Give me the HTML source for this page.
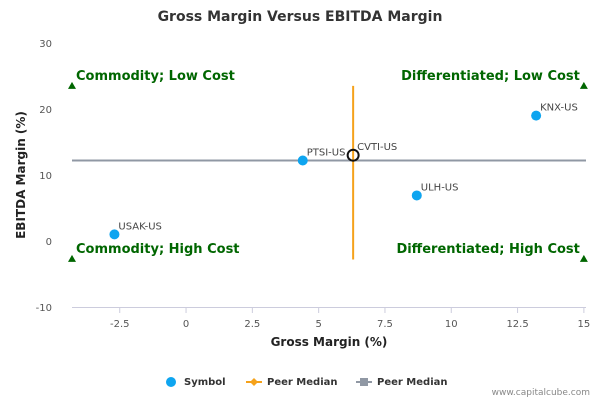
<!DOCTYPE html>
<html><head><meta charset="utf-8"><style>
body{margin:0;background:#fff;font-family:"DejaVu Sans","Liberation Sans",sans-serif}
svg text{font-family:"DejaVu Sans","Liberation Sans",sans-serif}
</style></head><body>
<svg id="chart" width="600" height="400" viewBox="0 0 600 400">
<text x="300" y="21" text-anchor="middle" font-size="14" font-weight="bold" fill="#333">Gross Margin Versus EBITDA Margin</text>
<g id="grid"></g><g id="axes"></g><g id="marks"></g>
<text x="329" y="346" text-anchor="middle" font-size="12" font-weight="bold" fill="#222">Gross Margin (%)</text>
<text transform="translate(25,175) rotate(-90)" text-anchor="middle" font-size="12" font-weight="bold" fill="#222">EBITDA Margin (%)</text>
<g font-size="10" font-weight="bold" fill="#333">
<g><circle cx="171" cy="382" r="5" fill="#0ea5f0"/><text x="184" y="385">Symbol</text></g>
<g><line x1="246" y1="382" x2="262" y2="382" stroke="#f5a21b" stroke-width="2"/><path d="M254 378 L258 382 L254 386 L250 382Z" fill="#f5a21b"/><text x="267" y="385">Peer Median</text></g>
<g><line x1="356" y1="382" x2="372" y2="382" stroke="#9098a4" stroke-width="2"/><rect x="360" y="378" width="8" height="8" fill="#9098a4"/><text x="377" y="385">Peer Median</text></g>
</g>
<text x="590" y="395" text-anchor="end" font-size="9" fill="#888">www.capitalcube.com</text>
</svg>
<script>
const xTicks=[-2.5,0,2.5,5,7.5,10,12.5,15];
const xTickLabels=["-2.5","0","2.5","5","7.5","10","12.5","15"];
const yTicks=[-10,0,10,20,30];
const symbols=["KNX-US","PTSI-US","CVTI-US","ULH-US","USAK-US"];
const grossMargin=[13.2,4.4,6.3,8.7,-2.7];
const ebitdaMargin=[19,12.2,13,6.9,1];
const medianX=6.3, medianY=12.2;
const quadLabels=["Commodity; Low Cost","Differentiated; Low Cost","Commodity; High Cost","Differentiated; High Cost"];
const quadX=[-4.3,15,-4.3,15];
const quadY=[23.5,23.5,-2.7,-2.7];
const xMin=-4.3,xMax=15.08,yMin=-10,yMax=30;
const X=v=>72+(v-xMin)/(xMax-xMin)*(586-72);
const Y=v=>307-(v-yMin)/(yMax-yMin)*264;
const NS="http://www.w3.org/2000/svg";
function mk(parent,tag,attrs,text){const e=document.createElementNS(NS,tag);for(const k in attrs)e.setAttribute(k,attrs[k]);if(text!=null)e.textContent=text;document.getElementById(parent).appendChild(e);return e;}
xTicks.forEach((t,i)=>{
 const e=mk("axes","text",{x:X(t),y:327,"text-anchor":"middle","font-size":"10",fill:"#555"},xTickLabels[i]);
 
 
 const l=mk("axes","line",{x1:X(t),x2:X(t),y1:307,y2:313,stroke:"#ccd"});
 
 
});
const ax=mk("axes","line",{x1:72,x2:586,y1:307.5,y2:307.5,stroke:"#ccd"});


yTicks.forEach(t=>{
 const e=mk("axes","text",{x:52,y:Y(t)+4,"text-anchor":"end","font-size":"10",fill:"#555"},String(t));
 
 
});
const h=mk("marks","line",{x1:72,x2:586,y1:Y(medianY),y2:Y(medianY),stroke:"#9098a4","stroke-width":2});


const v=mk("marks","line",{x1:X(medianX),x2:X(medianX),y1:Y(23.5),y2:Y(-2.8),stroke:"#f5a21b","stroke-width":2});


quadLabels.forEach((q,i)=>{
 const px=X(quadX[i]),py=Y(quadY[i]);
 const tri=mk("marks","path",{d:`M${px} ${py-4} L${px+4} ${py+3} L${px-4} ${py+3}Z`,fill:"#006600"});
 
 
 const left=i%2===0;
 const t=mk("marks","text",{x:left?px+4:px-4,y:py-6,"text-anchor":left?"start":"end","font-size":"13","font-weight":"bold",fill:"#006600"},q);
 
 
});
symbols.forEach((s,i)=>{
 const cx=X(grossMargin[i]),cy=Y(ebitdaMargin[i]);
 const c=s==="CVTI-US"?mk("marks","circle",{cx,cy,r:5.5,fill:"none",stroke:"#111","stroke-width":2}):mk("marks","circle",{cx,cy,r:5,fill:"#0ea5f0"});
 
 
 const t=mk("marks","text",{x:cx+4,y:cy-5,"font-size":"10",fill:"#444"},s);
 
 
});
</script>
</body></html>
